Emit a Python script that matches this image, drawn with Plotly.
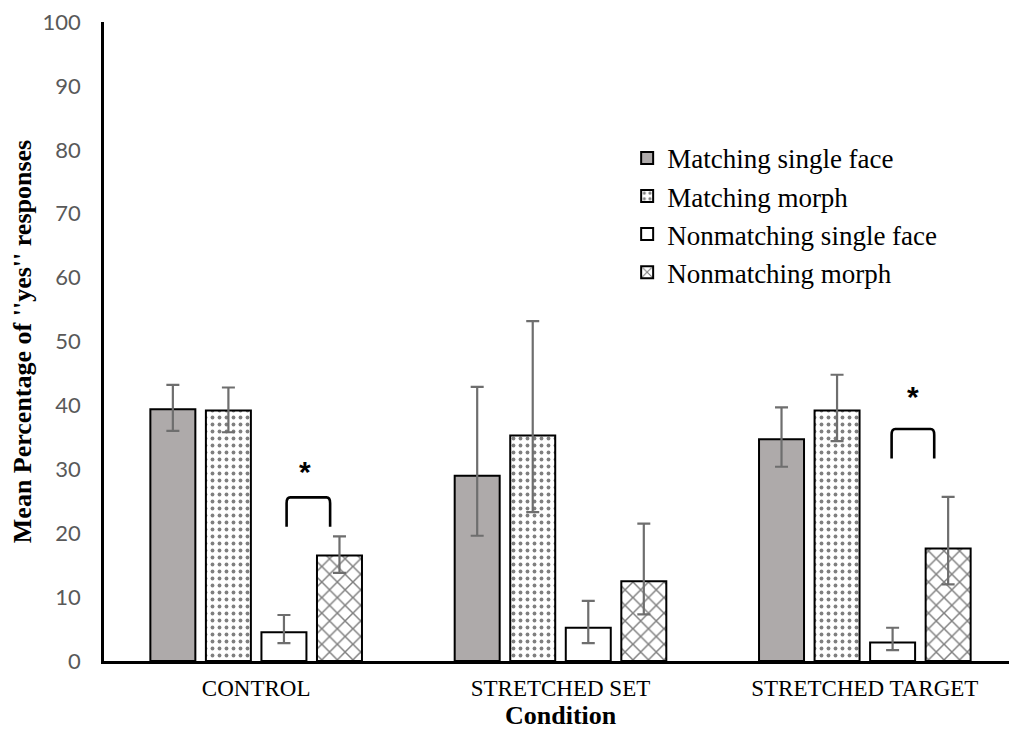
import plotly.graph_objects as go

categories = ["CONTROL", "STRETCHED SET", "STRETCHED TARGET"]
series_names = ["Matching single face", "Matching morph", "Nonmatching single face", "Nonmatching morph"]

matching_single = [39.4, 29.0, 34.7]
matching_morph = [39.2, 35.3, 39.2]
nonmatching_single = [4.5, 5.2, 2.9]
nonmatching_morph = [16.5, 12.5, 17.6]

err_plus = {
    "Matching single face": [3.8, 13.9, 5.0],
    "Matching morph": [3.6, 17.9, 5.6],
    "Nonmatching single face": [2.7, 4.2, 2.3],
    "Nonmatching morph": [3.0, 9.0, 8.1],
}
err_minus = {
    "Matching single face": [3.4, 9.4, 4.3],
    "Matching morph": [3.4, 12.0, 4.8],
    "Nonmatching single face": [1.7, 2.4, 1.2],
    "Nonmatching morph": [2.7, 5.2, 5.6],
}

yticks = [0, 10, 20, 30, 40, 50, 60, 70, 80, 90, 100]

# significance brackets: (category index, x start offset, x end offset, y bottom, y top)
brackets = [(0, 0.10, 0.243, 21.0, 25.6), (2, 0.088, 0.228, 31.7, 36.3)]
stars = [(0, 0.162, 29.6), (2, 0.158, 41.4)]

values = [matching_single, matching_morph, nonmatching_single, nonmatching_morph]
styles = [
    dict(color="#AEAAAA"),
    dict(color="white", pattern=dict(shape=".", fgcolor="black", bgcolor="white", size=7, solidity=0.24)),
    dict(color="white"),
    dict(color="white", pattern=dict(shape="x", fgcolor="black", bgcolor="white", size=11, solidity=0.25)),
]

x = list(range(len(categories)))
fig = go.Figure()
for i, (name, vals, st) in enumerate(zip(series_names, values, styles)):
    marker = dict(line=dict(color="black", width=2), **st)
    fig.add_trace(go.Bar(
        name=name, x=x, y=vals, marker=marker, legendgroup=f"g{i}",
        error_y=dict(type="data", symmetric=False, array=err_plus[name], arrayminus=err_minus[name],
                     color="#6E6E6E", thickness=2.2, width=6.5),
    ))

shapes = []
for ci, x0, x1, yb, yt in brackets:
    a, b = ci + x0, ci + x1
    rx, ry = 0.012, 0.9
    path = (f"M {a},{yb} L {a},{yt-ry} Q {a},{yt} {a+rx},{yt} "
            f"L {b-rx},{yt} Q {b},{yt} {b},{yt-ry} L {b},{yb}")
    shapes.append(dict(type="path", path=path, xref="x", yref="y",
                       line=dict(color="black", width=2.6)))

annotations = []
for ci, xo, yv in stars:
    annotations.append(dict(x=ci + xo, y=yv, xref="x", yref="y", text="<b>*</b>", showarrow=False,
                            font=dict(family="Liberation Sans", size=30, color="black")))
# x-axis title
annotations.append(dict(x=0.5, y=0, xref="paper", yref="paper", yanchor="middle", yshift=-54,
                        text="<b>Condition</b>", showarrow=False,
                        font=dict(family="Liberation Serif", size=26, color="black")))

# page body has an 8px default margin, so the figure is sized/offset to fill the 1017x737 window
fig.update_layout(
    width=1009, height=729,
    margin=dict(l=96, r=0, t=14, b=76),
    paper_bgcolor="white", plot_bgcolor="white",
    barmode="group", bargap=0.27, bargroupgap=0.19,
    shapes=shapes, annotations=annotations,
    legend=dict(x=0.573, y=0.825, xanchor="left", yanchor="top",
                font=dict(family="Liberation Serif", size=27, color="black"),
                tracegroupgap=0, bgcolor="rgba(0,0,0,0)"),
    xaxis=dict(tickvals=x, ticktext=categories, range=[-0.5, 2.5],
               showline=True, linecolor="black", linewidth=2.5, showgrid=False, zeroline=False,
               ticks="", ticklabelstandoff=5,
               tickfont=dict(family="Liberation Serif", size=23, color="black"),
               automargin=False),
    yaxis=dict(range=[0, 100], tickvals=yticks, showline=True, linecolor="black", linewidth=2.5,
               showgrid=False, zeroline=False, ticks="", ticklabelstandoff=16, ticklabeloverflow="allow",
               tickfont=dict(family="Lato", size=22, color="#595959"),
               title=dict(text="<b>Mean Percentage of ''yes'' responses</b>",
                          font=dict(family="Liberation Serif", size=26, color="black"), standoff=13),
               automargin=False),
)

fig.write_html("out.html")
